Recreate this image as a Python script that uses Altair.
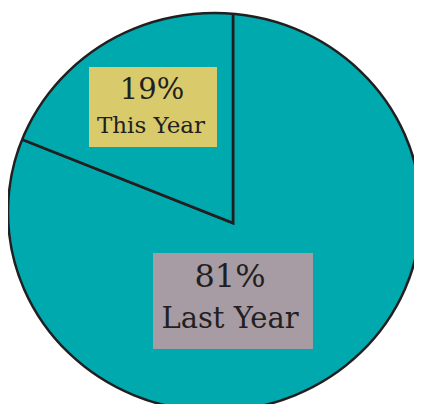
import altair as alt
import pandas as pd

categories = ["Last Year", "This Year"]
values = [81, 19]
labels = [f"{v}%" for v in values]

df = pd.DataFrame({"category": categories, "value": values, "label": labels})

TEAL = "#00a9ae"
INK = "#231f20"
FONT = "DejaVu Serif"

base = alt.Chart(df)

pie = base.mark_arc(radius=330, fill=TEAL, stroke=INK, strokeWidth=2.6).encode(
    theta=alt.Theta("value:Q", stack=True),
    order=alt.Order("category:N", sort="ascending"),
    x=alt.value(225),
    y=alt.value(215),
)

# white mask outside the elliptical outline
mask_path = "M-3,-3H3V3H-3Z M-1,0A1,0.9637 0 1,0 1,0A1,0.9637 0 1,0 -1,0Z"
mask = base.transform_filter(alt.datum.category == "Last Year").mark_point(
    shape=mask_path, size=170569, filled=True, fill="white", opacity=1,
    stroke=INK, strokeWidth=2.5, strokeOpacity=1,
).encode(x=alt.value(206.5), y=alt.value(204))

box_this = base.transform_filter(alt.datum.category == "This Year").mark_rect(color="#d9cb6c").encode(
    x=alt.value(81), x2=alt.value(209), y=alt.value(59), y2=alt.value(139)
)
box_last = base.transform_filter(alt.datum.category == "Last Year").mark_rect(color="#a79ca4").encode(
    x=alt.value(145), x2=alt.value(305), y=alt.value(245), y2=alt.value(341)
)

def txt(cat, field, size, x, y):
    return base.transform_filter(alt.datum.category == cat).mark_text(
        font=FONT, fontSize=size, color=INK, align="center", baseline="alphabetic"
    ).encode(text=f"{field}:N", x=alt.value(x), y=alt.value(y))

chart = alt.layer(
    pie, mask, box_this, box_last,
    txt("This Year", "label", 29, 144, 91),
    txt("This Year", "category", 23, 143, 125),
    txt("Last Year", "label", 32, 222, 279),
    txt("Last Year", "category", 29, 222, 320),
).properties(
    width=406, height=396, padding=0, autosize=alt.AutoSizeParams(type="none")
).configure_view(stroke=None)

chart.save("out.html", embed_options={"renderer": "svg", "actions": False})
